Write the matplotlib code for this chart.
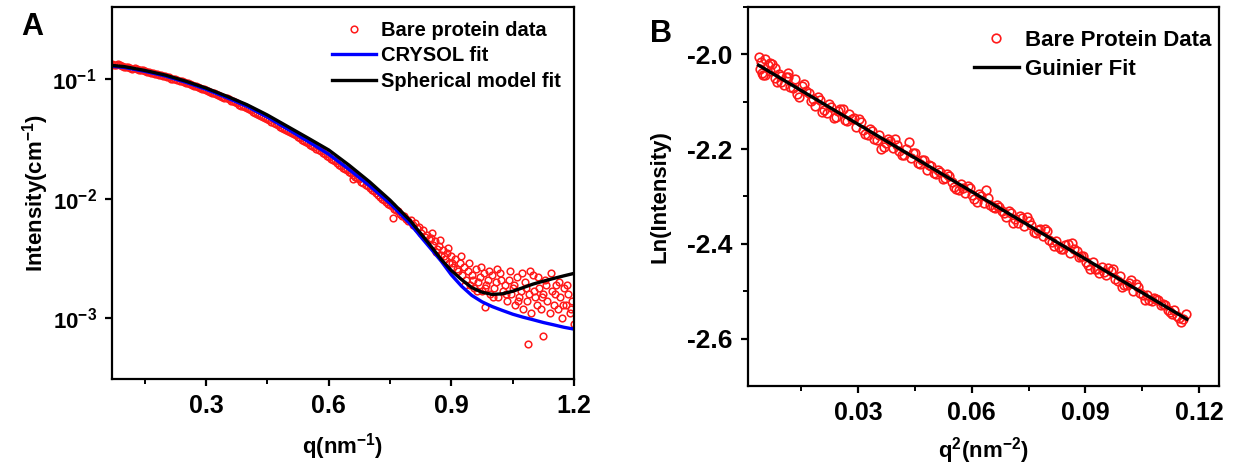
import numpy as np
import matplotlib
matplotlib.use("Agg")
import matplotlib.pyplot as plt
from matplotlib.ticker import FixedLocator, FuncFormatter, NullLocator

plt.rcParams['font.family'] = ['Liberation Sans', 'DejaVu Sans']
plt.rcParams['font.weight'] = 'bold'
plt.rcParams['mathtext.fontset'] = 'custom'
plt.rcParams['mathtext.rm'] = 'Liberation Sans:bold'
plt.rcParams['mathtext.bf'] = 'Liberation Sans:bold'
plt.rcParams['mathtext.default'] = 'bf'
plt.rcParams['axes.unicode_minus'] = False

# ---- panel A: SAXS curve ----
# smooth part of the data
q_data = [0.07, 0.08, 0.09, 0.10, 0.11, 0.12, 0.13, 0.14, 0.15, 0.16, 0.17, 0.18, 0.19, 0.20,
          0.21, 0.22, 0.23, 0.24, 0.25, 0.26, 0.27, 0.28, 0.29, 0.30, 0.31, 0.32, 0.33, 0.34,
          0.35, 0.36, 0.37, 0.38, 0.39, 0.40, 0.41, 0.42, 0.43, 0.44, 0.45, 0.46, 0.47, 0.48,
          0.49, 0.50, 0.51, 0.52, 0.53, 0.54, 0.55, 0.56, 0.57, 0.58, 0.59, 0.60, 0.61, 0.62,
          0.63, 0.64, 0.65, 0.66, 0.67, 0.68, 0.69, 0.70, 0.71, 0.72, 0.73, 0.74, 0.75, 0.76,
          0.77, 0.78, 0.79,
          0.075, 0.085, 0.095, 0.105, 0.115, 0.125, 0.135, 0.145, 0.155, 0.165, 0.175, 0.185,
          0.195, 0.205, 0.215, 0.225, 0.235, 0.245, 0.255, 0.265, 0.275, 0.285, 0.295, 0.305,
          0.315, 0.325, 0.335, 0.345, 0.355, 0.365, 0.375, 0.385, 0.395, 0.405, 0.415, 0.425,
          0.435, 0.445, 0.455, 0.465, 0.475, 0.485, 0.495, 0.505, 0.515, 0.525, 0.535, 0.545,
          0.555, 0.565, 0.575, 0.585, 0.595, 0.605, 0.615, 0.625, 0.635, 0.645, 0.655, 0.665,
          0.675, 0.685, 0.695, 0.705, 0.715, 0.725, 0.735, 0.745, 0.755, 0.765, 0.775, 0.785,
          0.795]
I_data = [0.134, 0.131, 0.130, 0.126, 0.125, 0.122, 0.121, 0.118, 0.116, 0.115, 0.112, 0.110,
          0.108, 0.105, 0.103, 0.101, 0.098, 0.096, 0.093, 0.091, 0.088, 0.086, 0.083, 0.081,
          0.078, 0.076, 0.073, 0.071, 0.069, 0.066, 0.064, 0.061, 0.059, 0.057, 0.055, 0.052,
          0.050, 0.048, 0.046, 0.044, 0.042, 0.040, 0.038, 0.037, 0.0355, 0.0338, 0.032, 0.0305,
          0.029, 0.0277, 0.0262, 0.0248, 0.0236, 0.0222, 0.021, 0.0199, 0.0186, 0.0176, 0.0168,
          0.0158, 0.0148, 0.0139, 0.0130, 0.0122, 0.0115, 0.0108, 0.0100, 0.0094, 0.0088,
          0.0082, 0.0079, 0.0071, 0.0068,
          0.131, 0.133, 0.128, 0.127, 0.123, 0.123, 0.119, 0.118, 0.115, 0.113, 0.110, 0.109,
          0.106, 0.104, 0.101, 0.100, 0.097, 0.094, 0.092, 0.089, 0.087, 0.084, 0.082, 0.0795,
          0.077, 0.0745, 0.072, 0.070, 0.0675, 0.065, 0.0625, 0.060, 0.058, 0.056, 0.0535, 0.051,
          0.049, 0.047, 0.045, 0.043, 0.041, 0.039, 0.0375, 0.036, 0.0345, 0.033, 0.031, 0.0297,
          0.0283, 0.027, 0.0255, 0.0242, 0.0229, 0.0216, 0.0205, 0.0192, 0.0182, 0.0172, 0.0163,
          0.0153, 0.0145, 0.0135, 0.0127, 0.0119, 0.0112, 0.0104, 0.0097, 0.0091, 0.0086,
          0.0080, 0.0075, 0.0072, 0.0065]
# noisy high-q part
q_noisy = [0.800, 0.805, 0.810, 0.815, 0.820, 0.825, 0.830, 0.835, 0.840, 0.845, 0.850, 0.855,
           0.860, 0.865, 0.870, 0.875, 0.880, 0.885, 0.890, 0.895, 0.900, 0.905, 0.910, 0.915,
           0.920, 0.925, 0.930, 0.935, 0.940, 0.945, 0.950, 0.955, 0.960, 0.965, 0.970, 0.975,
           0.980, 0.985, 0.990, 0.995, 1.000, 1.005, 1.010, 1.015, 1.020, 1.025, 1.030, 1.035,
           1.040, 1.045, 1.050, 1.055, 1.060, 1.065, 1.070, 1.075, 1.080, 1.085, 1.090, 1.095,
           1.100, 1.105, 1.110, 1.115, 1.120, 1.125, 1.130, 1.135, 1.140, 1.145, 1.150, 1.155,
           1.160, 1.165, 1.170, 1.175, 1.180, 1.185, 1.190, 1.195, 1.200,
           0.8525, 0.8625, 0.8725, 0.8825, 0.8925, 0.9025, 0.9125, 0.9225, 0.9325, 0.9425,
           0.9525, 0.9625, 0.9725, 0.9825, 0.9925, 1.0025, 1.0125, 1.0225, 1.0325, 1.0425,
           1.0525, 1.0625, 1.0725, 1.0825, 1.0925, 1.1025, 1.1125, 1.1225, 1.1325, 1.1425,
           1.1525, 1.1625, 1.1725, 1.1825, 1.1925,
           0.66, 0.757, 0.982, 1.087, 1.124]
I_noisy = [0.0066, 0.0060, 0.0063, 0.0057, 0.0058, 0.0052, 0.0055, 0.0048, 0.0050, 0.0046,
           0.0047, 0.0041, 0.0044, 0.0038, 0.0040, 0.0034, 0.0037, 0.0031, 0.0035, 0.0029,
           0.0033, 0.0027, 0.0031, 0.0025, 0.0029, 0.0023, 0.0027, 0.0021, 0.0025, 0.0019,
           0.0023, 0.0018, 0.0026, 0.0020, 0.0022, 0.0017, 0.0024, 0.0019, 0.0021, 0.0016,
           0.0023, 0.0018, 0.0020, 0.0015, 0.0024, 0.0017, 0.0019, 0.0014, 0.0021, 0.0016,
           0.0018, 0.0013, 0.0022, 0.0015, 0.0017, 0.0012, 0.0020, 0.0014, 0.0016, 0.0011,
           0.0023, 0.0015, 0.0013, 0.0018, 0.0012, 0.0016, 0.0021, 0.0014, 0.0011, 0.0017,
           0.0013, 0.0019, 0.0012, 0.0015, 0.0010, 0.0018, 0.0013, 0.0016, 0.0011, 0.0014,
           0.0009,
           0.0052, 0.0036, 0.0045, 0.0033, 0.0039, 0.0029, 0.0026, 0.0033, 0.0019, 0.0029,
           0.0021, 0.0017, 0.0027, 0.0018, 0.0025, 0.0015, 0.0026, 0.0021, 0.0016, 0.0025,
           0.0019, 0.0014, 0.0024, 0.0018, 0.0025, 0.0017, 0.0022, 0.0015, 0.0019, 0.0024,
           0.0016, 0.0020, 0.0013, 0.0019, 0.0012,
           0.0145, 0.0069, 0.00123, 0.00061, 0.00071]

q_fit = [0.07, 0.10, 0.15, 0.20, 0.25, 0.30, 0.35, 0.40, 0.45, 0.50, 0.55, 0.60, 0.65, 0.70,
         0.75, 0.80, 0.825, 0.85, 0.875, 0.90, 0.925, 0.95, 0.975, 1.00, 1.025, 1.05, 1.075,
         1.10, 1.125, 1.15, 1.175, 1.20]
I_crysol = [0.128, 0.125, 0.116, 0.106, 0.094, 0.082, 0.070, 0.059, 0.048, 0.038, 0.030,
            0.0235, 0.0175, 0.0128, 0.0091, 0.0061, 0.0048, 0.0038, 0.0030, 0.0023, 0.00185,
            0.00155, 0.00137, 0.00125, 0.00116, 0.00108, 0.00102, 0.00097, 0.00092, 0.00088,
            0.00084, 0.00081]
I_sphere = [0.130, 0.127, 0.118, 0.108, 0.096, 0.084, 0.072, 0.061, 0.050, 0.040, 0.032,
            0.0255, 0.019, 0.0138, 0.0097, 0.0065, 0.0051, 0.0040, 0.0031, 0.0025, 0.0021,
            0.0018, 0.00165, 0.00158, 0.00160, 0.00168, 0.0018, 0.00193, 0.00204, 0.00215,
            0.00226, 0.00237]

# ---- panel B: Guinier plot ----
q2_data = [0.0037, 0.0049, 0.0061, 0.0073, 0.0085, 0.0097, 0.0109, 0.0121, 0.0133, 0.0145,
           0.0157, 0.0169, 0.0181, 0.0193, 0.0205, 0.0217, 0.0229, 0.0241, 0.0253, 0.0265,
           0.0277, 0.0289, 0.0301, 0.0313, 0.0325, 0.0337, 0.0349, 0.0361, 0.0373, 0.0385,
           0.0397, 0.0409, 0.0421, 0.0433, 0.0445, 0.0457, 0.0469, 0.0481, 0.0493, 0.0505,
           0.0517, 0.0529, 0.0541, 0.0553, 0.0565, 0.0577, 0.0589, 0.0601, 0.0613, 0.0625,
           0.0637, 0.0649, 0.0661, 0.0673, 0.0685, 0.0697, 0.0709, 0.0721, 0.0733, 0.0745,
           0.0757, 0.0769, 0.0781, 0.0793, 0.0805, 0.0817, 0.0829, 0.0841, 0.0853, 0.0865,
           0.0877, 0.0889, 0.0901, 0.0913, 0.0925, 0.0937, 0.0949, 0.0961, 0.0973, 0.0985,
           0.0997, 0.1009, 0.1021, 0.1033, 0.1045, 0.1057, 0.1069, 0.1081, 0.1093, 0.1105,
           0.1117, 0.1129, 0.1141, 0.1153, 0.1165,
           0.0040, 0.0045, 0.0055, 0.0067, 0.0080, 0.0095, 0.0115,
           0.0043, 0.0055, 0.0067, 0.0079, 0.0091, 0.0103, 0.0115, 0.0127, 0.0139, 0.0151,
           0.0163, 0.0175, 0.0187, 0.0199, 0.0211, 0.0223, 0.0235, 0.0247, 0.0259, 0.0271,
           0.0283, 0.0295, 0.0307, 0.0319, 0.0331, 0.0343, 0.0355, 0.0367, 0.0379, 0.0391,
           0.0403, 0.0415, 0.0427, 0.0439, 0.0451, 0.0463, 0.0475, 0.0487, 0.0499, 0.0511,
           0.0523, 0.0535, 0.0547, 0.0559, 0.0571, 0.0583, 0.0595, 0.0607, 0.0619, 0.0631,
           0.0643, 0.0655, 0.0667, 0.0679, 0.0691, 0.0703, 0.0715, 0.0727, 0.0739, 0.0751,
           0.0763, 0.0775, 0.0787, 0.0799, 0.0811, 0.0823, 0.0835, 0.0847, 0.0859, 0.0871,
           0.0883, 0.0895, 0.0907, 0.0919, 0.0931, 0.0943, 0.0955, 0.0967, 0.0979, 0.0991,
           0.1003, 0.1015, 0.1027, 0.1039, 0.1051, 0.1063, 0.1075, 0.1087, 0.1099, 0.1111,
           0.1123, 0.1135, 0.1147, 0.1159]
lnI_data = [-2.005, -2.044, -2.022, -2.020, -2.058, -2.045, -2.047, -2.068, -2.052, -2.090,
            -2.062, -2.081, -2.095, -2.089, -2.122, -2.124, -2.112, -2.133, -2.115, -2.139,
            -2.125, -2.134, -2.136, -2.160, -2.171, -2.161, -2.181, -2.200, -2.188, -2.182,
            -2.178, -2.203, -2.213, -2.185, -2.208, -2.230, -2.222, -2.245, -2.235, -2.253,
            -2.248, -2.262, -2.256, -2.280, -2.287, -2.283, -2.277, -2.296, -2.312, -2.298,
            -2.287, -2.317, -2.325, -2.322, -2.334, -2.330, -2.355, -2.355, -2.345, -2.344,
            -2.360, -2.378, -2.369, -2.369, -2.391, -2.405, -2.406, -2.410, -2.400, -2.399,
            -2.415, -2.425, -2.438, -2.452, -2.454, -2.461, -2.459, -2.451, -2.452, -2.478,
            -2.490, -2.487, -2.477, -2.485, -2.504, -2.518, -2.518, -2.515, -2.519, -2.527,
            -2.539, -2.548, -2.552, -2.564, -2.548,
            -2.030, -2.040, -2.010, -2.036, -2.028, -2.058, -2.040,
            -2.016, -2.044, -2.019, -2.049, -2.041, -2.064, -2.048, -2.070, -2.083, -2.067,
            -2.077, -2.098, -2.108, -2.096, -2.117, -2.105, -2.135, -2.119, -2.116, -2.140,
            -2.136, -2.153, -2.143, -2.169, -2.158, -2.178, -2.170, -2.195, -2.179, -2.197,
            -2.192, -2.212, -2.200, -2.218, -2.209, -2.231, -2.223, -2.234, -2.250, -2.244,
            -2.263, -2.253, -2.269, -2.284, -2.274, -2.292, -2.282, -2.305, -2.295, -2.313,
            -2.304, -2.322, -2.318, -2.331, -2.343, -2.335, -2.348, -2.342, -2.362, -2.351,
            -2.375, -2.371, -2.383, -2.372, -2.396, -2.394, -2.411, -2.403, -2.419, -2.410,
            -2.428, -2.426, -2.445, -2.439, -2.453, -2.448, -2.466, -2.458, -2.474, -2.467,
            -2.487, -2.483, -2.500, -2.492, -2.508, -2.507, -2.521, -2.517, -2.530, -2.530,
            -2.544, -2.539, -2.557, -2.559]
q2_fit = [0.0037, 0.1168]
lnI_fit = [-2.023, -2.559]

fig = plt.figure(figsize=(12.38, 4.72), dpi=100)
axA = fig.add_axes([0.0905, 0.197, 0.3732, 0.7881])
axB = fig.add_axes([0.6042, 0.1822, 0.3805, 0.8030])

red = '#ff1a1a'
axA.plot(q_data + q_noisy, I_data + I_noisy, 'o', mfc='none', mec=red, ms=4.8, mew=1.1,
         label='Bare protein data')
axA.plot(q_fit, I_crysol, color='#0000ff', lw=2.4, label='CRYSOL fit')
axA.plot(q_fit, I_sphere, color='black', lw=2.4, label='Spherical model fit')
axA.set_yscale('log')
axA.set_xlim(0.07, 1.2)
axA.set_ylim(3.1e-4, 0.4)
axA.xaxis.set_major_locator(FixedLocator([0.3, 0.6, 0.9, 1.2]))
axA.xaxis.set_minor_locator(FixedLocator([0.15, 0.45, 0.75, 1.05]))
axA.yaxis.set_major_locator(FixedLocator([1e-3, 1e-2, 1e-1]))
axA.yaxis.set_minor_locator(NullLocator())
axA.yaxis.set_major_formatter(FuncFormatter(lambda v, p: r'$\mathbf{10^{%d}}$' % round(np.log10(v))))
axA.xaxis.set_major_formatter(FuncFormatter(lambda v, p: '%.1f' % v))
axA.set_xlabel(r'q(nm$^{-1}$)', fontsize=16, fontweight='bold', labelpad=9)
axA.set_ylabel(r'Intensity(cm$^{-1}$)', fontsize=16, fontweight='bold', labelpad=1)
axA.legend(loc='upper left', bbox_to_anchor=(0.476, 0.963), frameon=False, numpoints=1,
           handlelength=2.2, handletextpad=0.25, labelspacing=0.32, borderpad=0,
           borderaxespad=0, prop={'weight': 'bold', 'size': 14.5})
fig.text(0.017, 0.925, 'A', fontsize=22, fontweight='bold')

axB.plot(q2_data, lnI_data, 'o', mfc='none', mec=red, ms=6.2, mew=1.2, label='Bare Protein Data')
axB.plot(q2_fit, lnI_fit, color='black', lw=2.4, label='Guinier Fit')
axB.set_xlim(0.0009, 0.1253)
axB.set_ylim(-2.7, -1.9)
axB.xaxis.set_major_locator(FixedLocator([0.03, 0.06, 0.09, 0.12]))
axB.xaxis.set_minor_locator(FixedLocator([0.015, 0.045, 0.075, 0.105]))
axB.yaxis.set_major_locator(FixedLocator([-2.6, -2.4, -2.2, -2.0]))
axB.yaxis.set_minor_locator(FixedLocator([-2.5, -2.3, -2.1, -1.9]))
axB.xaxis.set_major_formatter(FuncFormatter(lambda v, p: '%.2f' % v))
axB.yaxis.set_major_formatter(FuncFormatter(lambda v, p: '%.1f' % v))
axB.set_xlabel(r'q$^{2}$(nm$^{-2}$)', fontsize=16, fontweight='bold', labelpad=7)
axB.set_ylabel('Ln(Intensity)', fontsize=16, fontweight='bold', labelpad=12)
axB.legend(loc='upper left', bbox_to_anchor=(0.48, 0.94), frameon=False, numpoints=1,
           handlelength=2.0, handletextpad=0.3, labelspacing=0.35, borderpad=0,
           borderaxespad=0, prop={'weight': 'bold', 'size': 16})
fig.text(0.525, 0.91, 'B', fontsize=22, fontweight='bold')

for ax in (axA, axB):
    for s in ax.spines.values():
        s.set_linewidth(1.6)
    ax.tick_params(which='major', direction='out', length=5, width=1.6, labelsize=18, pad=6,
                   top=False, right=False)
    ax.tick_params(which='minor', direction='out', length=3.5, width=1.4, top=False, right=False)
    for lab in ax.get_xticklabels() + ax.get_yticklabels():
        lab.set_fontweight('bold')
axA.tick_params(axis='y', which='major', labelsize=16)
axB.tick_params(axis='y', which='major', labelsize=19)

fig.savefig('out.png', dpi=100)
